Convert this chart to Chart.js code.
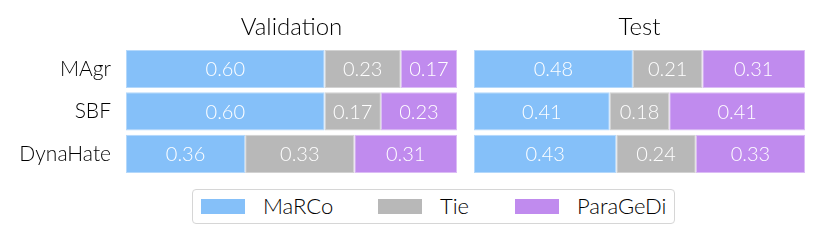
<!DOCTYPE html>
<html>
<head>
<meta charset="utf-8">
<script src="https://cdn.jsdelivr.net/npm/chart.js@4/dist/chart.umd.min.js"></script>
<style>
  body { margin: 0; background: #fff; font-family: Lato, sans-serif; }
  #wrap { position: relative; width: 823px; height: 244px; overflow: hidden; }
  #valCanvasBox { position: absolute; left: 0; top: 0; width: 460px; height: 180px; }
  #testCanvasBox { position: absolute; left: 460px; top: 0; width: 363px; height: 180px; }
  #legend {
    position: absolute; left: 192px; top: 189px; width: 483px; height: 35px;
    border: 1.5px solid #d6d6d6; border-radius: 4px; box-sizing: border-box;
  }
  .item { position: absolute; top: 0; height: 32px; line-height: 32px; font-size: 22px; font-weight: 300; color: #000; }
  .swatch { position: absolute; top: 9px; width: 44px; height: 15px; }
</style>
</head>
<body>
<div id="wrap">
  <div id="valCanvasBox"><canvas id="valChart"></canvas></div>
  <div id="testCanvasBox"><canvas id="testChart"></canvas></div>
  <div id="legend"></div>
</div>
<script>
// --- DATA ---
const categories = ['MAgr', 'SBF', 'DynaHate'];
const seriesNames = ['MaRCo', 'Tie', 'ParaGeDi'];
const seriesColors = ['#85c0f9', '#b8b8b8', '#c08bee'];
const seriesEdges = ['#b4d8fb', '#d2d2d2', '#dbbcf5'];

const valMarco = [0.60, 0.60, 0.36];
const valTie = [0.23, 0.17, 0.33];
const valParagedi = [0.17, 0.23, 0.31];

const testMarco = [0.48, 0.41, 0.43];
const testTie = [0.21, 0.18, 0.24];
const testParagedi = [0.31, 0.41, 0.33];

// draws the value in the middle of each bar segment
const valueLabels = {
    id: 'valueLabels',
    afterDatasetsDraw(chart) {
        const ctx = chart.ctx;
        ctx.save();
        ctx.fillStyle = '#ffffff';
        ctx.font = '300 20px Lato';
        ctx.textAlign = 'center';
        ctx.textBaseline = 'middle';
        chart.data.datasets.forEach((ds, i) => {
            chart.getDatasetMeta(i).data.forEach((bar, j) => {
                const cx = (bar.x + bar.base) / 2;
                ctx.fillText(ds.data[j].toFixed(2), cx, bar.y + 1);
            });
        });
        ctx.restore();
    }
};

function makeChart(canvasId, title, values, showLabels, padLeft, padRight) {
    const datasets = values.map((vals, i) => ({
        label: seriesNames[i],
        data: vals,
        backgroundColor: seriesColors[i],
        borderColor: seriesEdges[i],
        borderWidth: 1,
        borderSkipped: false,
        barPercentage: 0.9,
        categoryPercentage: 1.0
    }));

    return new Chart(document.getElementById(canvasId), {
        type: 'bar',
        data: { labels: categories, datasets: datasets },
        options: {
            indexAxis: 'y',
            responsive: true,
            maintainAspectRatio: false,
            animation: false,
            layout: { padding: { left: padLeft, right: padRight, top: 0, bottom: 5 } },
            plugins: {
                legend: { display: false },
                tooltip: { enabled: false },
                title: {
                    display: true,
                    text: title,
                    fullSize: false,
                    color: '#000',
                    font: { family: 'Lato', size: 24, weight: 300, lineHeight: 1.2 },
                    padding: { top: 13, bottom: 6 }
                }
            },
            scales: {
                x: { stacked: true, min: 0, max: 1, display: false },
                y: {
                    stacked: true,
                    display: showLabels,
                    grid: { display: false, drawTicks: false },
                    border: { display: false },
                    ticks: { color: '#000', font: { family: 'Lato', size: 21, weight: 300 }, padding: 15 },
                    afterFit: (scale) => {
                        if (showLabels) scale.width = 126;
                        scale.paddingTop = 0;
                        scale.paddingBottom = 0;
                    }
                }
            }
        },
        plugins: [valueLabels]
    });
}

makeChart('valChart', 'Validation', [valMarco, valTie, valParagedi], true, 0, 3);
makeChart('testChart', 'Test', [testMarco, testTie, testParagedi], false, 14, 18);

// --- LEGEND ---
const legend = document.getElementById('legend');
const legendX = [8, 185, 322];
seriesNames.forEach((name, i) => {
    const sw = document.createElement('div');
    sw.className = 'swatch';
    sw.style.left = legendX[i] + 'px';
    sw.style.background = seriesColors[i];
    legend.appendChild(sw);
    const txt = document.createElement('div');
    txt.className = 'item';
    txt.style.left = (legendX[i] + 62) + 'px';
    txt.textContent = name;
    legend.appendChild(txt);
});
</script>
</body>
</html>
